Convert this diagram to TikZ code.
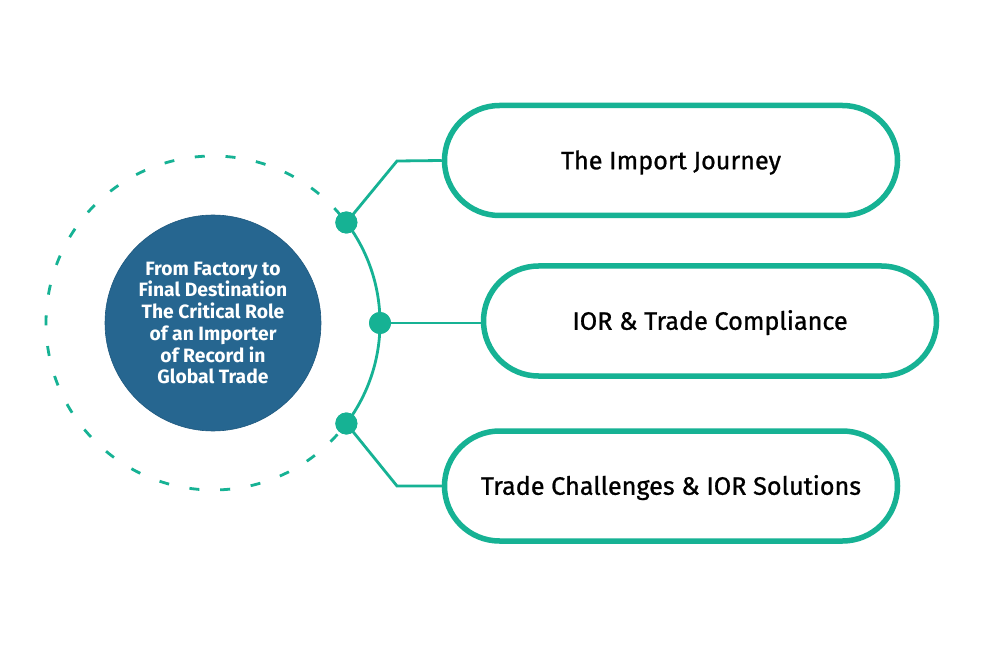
\documentclass[tikz,border=0pt]{standalone}
\usepackage{fontspec}
\setmainfont{Fira Sans}
\newfontfamily\medfont{Fira Sans}[FakeBold=0.9]
\usetikzlibrary{calc}
\definecolor{teal1}{RGB}{22,178,148}
\definecolor{blue1}{RGB}{38,102,144}
\definecolor{blueedge}{RGB}{30,88,126}
\tikzset{
  pill/.style={draw=teal1, line width=5.5pt, fill=white, rounded corners=55pt,
    minimum width=453pt, minimum height=110pt, inner sep=0pt,
    text height=18pt, text depth=0.5pt,
    font=\medfont\fontsize{25.2}{29}\selectfont, text=black},
  dotnode/.style={circle, fill=teal1, minimum size=22pt, inner sep=0pt},
  conn/.style={draw=teal1, line width=2.8pt},
}
\begin{document}
\begin{tikzpicture}[x=1pt,y=1pt]
\useasboundingbox (0,0) rectangle (998,-652);
\fill[white] (0,0) rectangle (998,-652);
\coordinate (C) at (213,-323);
% dashed outer ring
\draw[teal1, line width=2.8pt, dash pattern=on 10pt off 20.8pt, line cap=butt]
  ($(C)+(40:167)$) arc[start angle=40, end angle=320, radius=167];
% solid arc
\draw[conn] ($(C)+(-37:167)$) arc[start angle=-37, end angle=37, radius=167];
% center circle
\node[circle, fill=blue1, draw=blueedge, line width=0.6pt, minimum size=216pt, inner sep=0pt,
  text=white, align=center, font=\bfseries\fontsize{19.3}{21.7}\selectfont] (center) at (213,-323)
  {From Factory to\\Final Destination\\The Critical Role\\of an Importer\\of Record in\\Global Trade};
% pills
\node[pill] (p1) at (671,-160.5) {The Import Journey};
\node[pill] (p2) at (710,-321) {IOR \& Trade Compliance};
\node[pill] (p3) at (671,-486) {Trade Challenges \& IOR Solutions};
% dots
\node[dotnode] (d1) at ($(C)+(37:167)$) {};
\node[dotnode] (d2) at ($(C)+(0:167)$) {};
\node[dotnode] (d3) at ($(C)+(-37:167)$) {};
\coordinate (b1) at (397,-161);
\coordinate (b3) at (397,-486);
% connectors
\draw[conn] (d1.center) -- (b1) -- (p1.west);
\draw[conn] (d2.center) -- (d2.center -| p2.west);
\draw[conn] (d3.center) -- (b3) -- (p3.west);
\node[dotnode] at (d1) {};
\node[dotnode] at (d2) {};
\node[dotnode] at (d3) {};
\end{tikzpicture}
\end{document}
